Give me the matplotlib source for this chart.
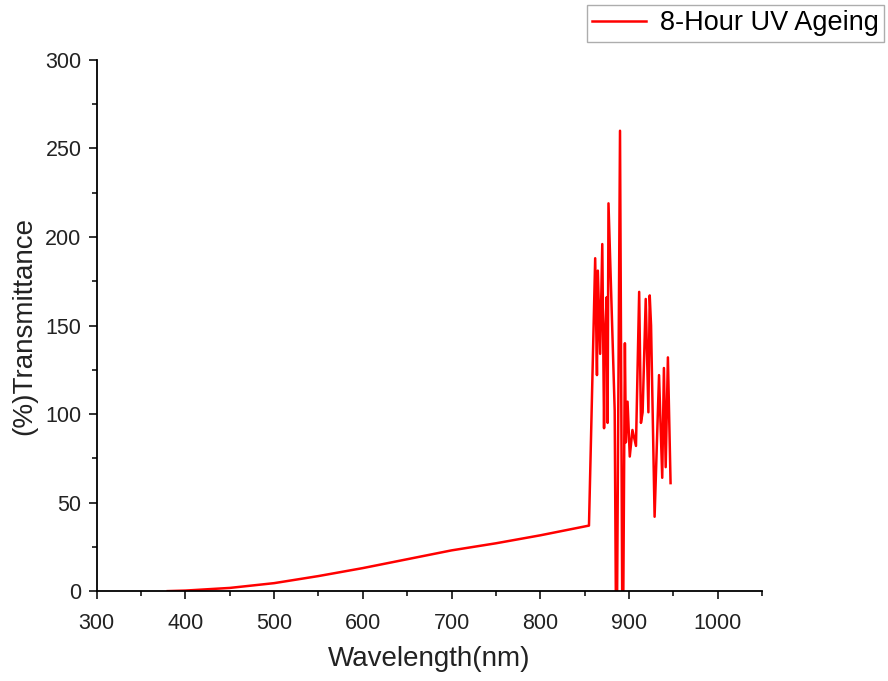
import matplotlib
matplotlib.use("Agg")
import matplotlib.pyplot as plt
from matplotlib.ticker import MultipleLocator

wavelength = [380, 400, 450, 500, 550, 600, 650, 700, 750, 800, 855,
              862, 864, 865, 867.6, 870, 872, 873, 875, 876, 877,
              884, 886, 890, 893, 895.5, 896.6, 898.5, 901, 904, 908,
              911.6, 913.6, 915.5, 919, 922, 923.5, 925, 929, 934,
              937.6, 939.5, 941.5, 944, 947]
transmittance = [0, 0.3, 1.8, 4.5, 8.5, 13, 18, 23, 27, 31.5, 37,
                 188, 122, 181, 134, 196, 92, 143, 166, 95, 219,
                 102, -60, 260, -60, 140, 84, 107, 76, 91, 82,
                 169, 95, 101, 165, 101, 167, 150, 42, 122,
                 64, 126, 70, 132, 61]
series_label = "8-Hour UV Ageing"

plt.rcParams['font.family'] = ['Liberation Sans', 'DejaVu Sans']

fig = plt.figure(figsize=(8.88, 6.81), dpi=100)
ax = fig.add_axes([0.109, 0.132, 0.749, 0.78])
line, = ax.plot(wavelength, transmittance, color='#ff0000', lw=1.8, label=series_label)

ax.set_xlim(300, 1050)
ax.set_ylim(0, 300)
ax.xaxis.set_minor_locator(MultipleLocator(50))
ax.yaxis.set_major_locator(MultipleLocator(50))
ax.yaxis.set_minor_locator(MultipleLocator(25))
ax.set_xticks(range(300, 1001, 100))
ax.spines['top'].set_visible(False)
ax.spines['right'].set_visible(False)
for s in ('left', 'bottom'):
    ax.spines[s].set_linewidth(1.3)
ax.tick_params(which='major', direction='out', length=6, width=1.3, labelsize=15.5, colors='#222222')
ax.tick_params(which='minor', direction='out', length=3.5, width=1.1)
ax.tick_params(axis='x', which='major', pad=9.5)
ax.tick_params(axis='y', which='major', pad=5)
ax.set_xlabel('Wavelength(nm)', fontsize=20, color='#222222', labelpad=9)
ax.set_ylabel('(%)Transmittance', fontsize=20, color='#222222', labelpad=6)

leg = fig.legend(handles=[line], loc='upper right', bbox_to_anchor=(0.9955, 0.993),
                 borderaxespad=0.0,
                 fontsize=19.5, frameon=True, fancybox=False, edgecolor='#999999',
                 handlelength=2.0, borderpad=0.2, handletextpad=0.5)
leg.get_frame().set_linewidth(1.0)

fig.savefig('out.png', dpi=100, facecolor='white')
